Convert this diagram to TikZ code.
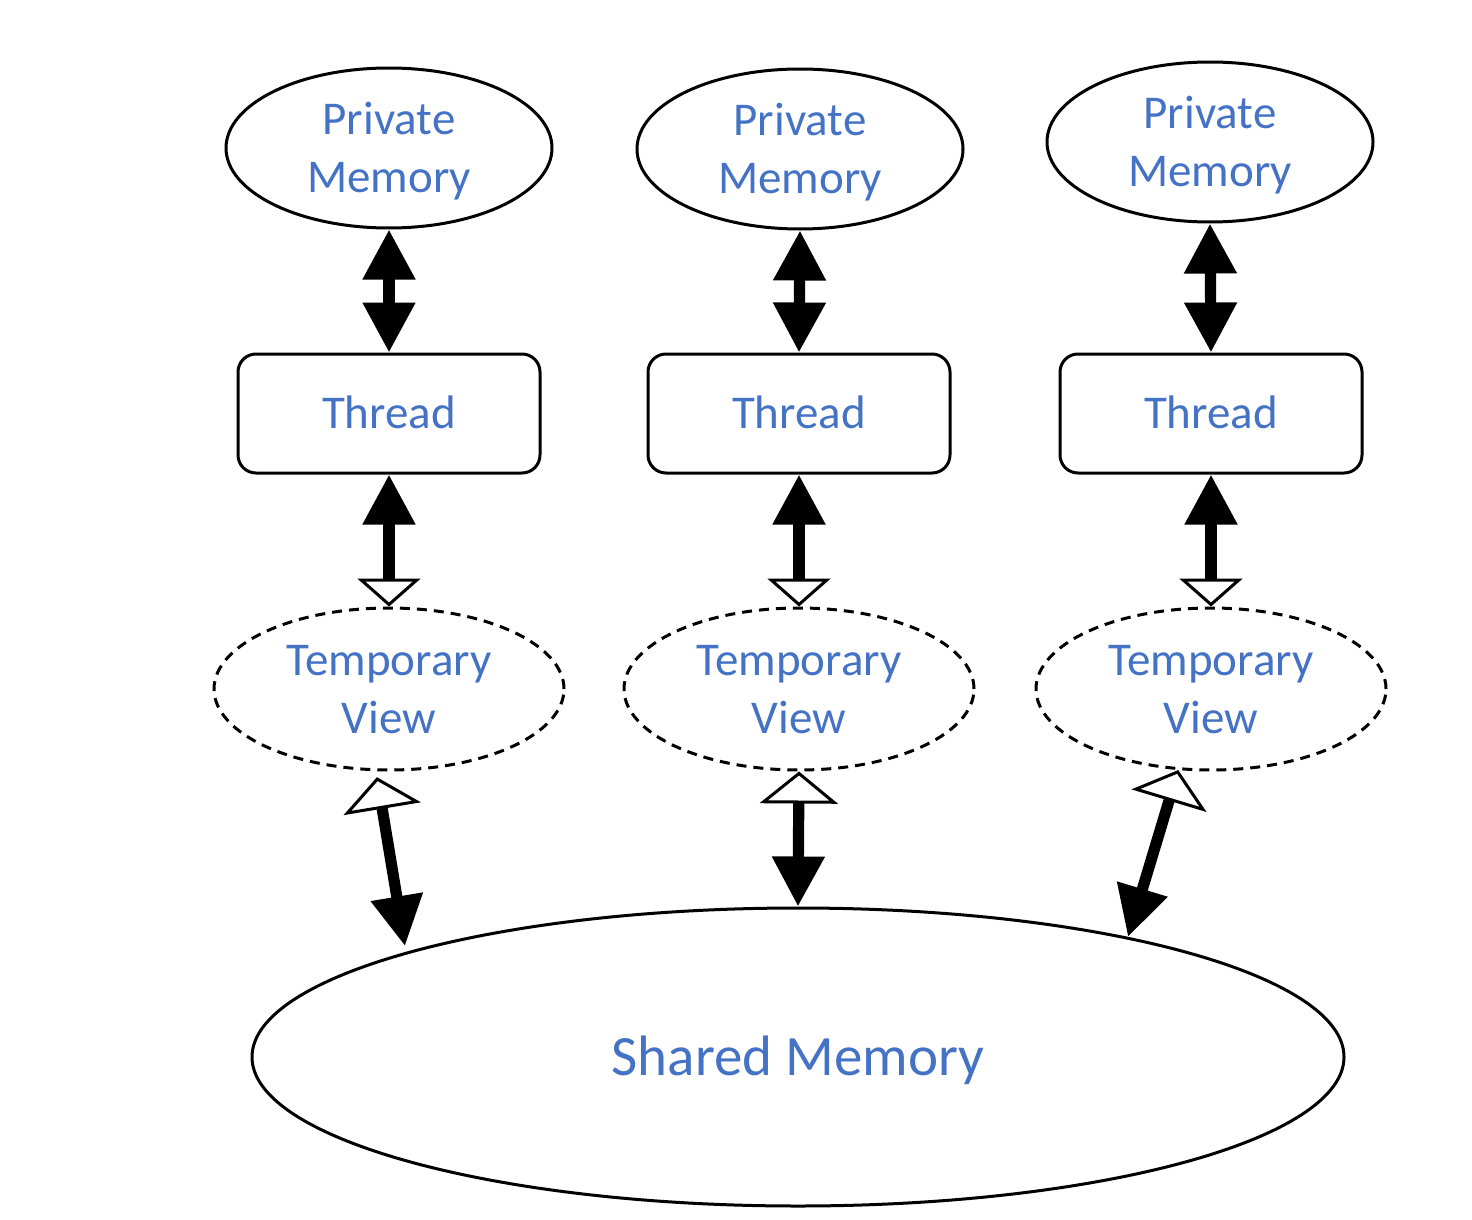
\documentclass[tikz,border=0pt]{standalone}
\usepackage{fontspec}
\setmainfont{Carlito}
\usetikzlibrary{shapes.geometric,arrows.meta}
\definecolor{txtblue}{HTML}{4472C4}
\newcommand{\twoline}[2]{\raisebox{-2pt}[\height][\depth]{\begin{tabular}{@{}c@{}}#1\\#2\end{tabular}}}
\begin{document}
\begin{tikzpicture}[x=0.5pt,y=-0.5pt,
  lbl/.style={text=txtblue, font=\fontsize{23.5}{29}\selectfont, inner sep=0pt, line width=1.5pt, draw=black},
  pm/.style={lbl, ellipse, inner sep=-6pt, minimum width=163pt, minimum height=80pt},
  th/.style={lbl, rectangle, rounded corners=9pt, minimum width=151pt, minimum height=59.5pt, text height=15pt, text depth=0pt},
  tv/.style={lbl, ellipse, inner sep=-6pt, dash pattern=on 5pt off 3.5pt, minimum width=175pt, minimum height=81pt},
  sm/.style={lbl, ellipse, minimum width=546pt, minimum height=149pt, font=\fontsize{28.5}{34}\selectfont, text height=18pt, text depth=0pt},
  conn/.style={line width=5.6pt, black},
  fh/.tip={Triangle[length=25pt,width=25pt]},
  oh/.tip={Triangle[length=14pt,width=31.5pt,fill=white,line width=1.5pt]},
  ohb/.tip={Triangle[length=16pt,width=39pt,fill=white,line width=1.5pt]},
]
\useasboundingbox (0,0) rectangle (1472,1220);
\node[pm] (pm1) at (389,148) {\twoline{Private}{Memory}};
\node[pm] (pm2) at (800,149) {\twoline{Private}{Memory}};
\node[pm] (pm3) at (1210,142) {\twoline{Private}{Memory}};
\node[th] (th1) at (389,413.5) {Thread};
\node[th] (th2) at (799,413.5) {Thread};
\node[th] (th3) at (1211,413.5) {Thread};
\node[tv] (tv1) at (389,689) {\twoline{Temporary}{View}};
\node[tv] (tv2) at (799,689) {\twoline{Temporary}{View}};
\node[tv] (tv3) at (1211,689) {\twoline{Temporary}{View}};
\node[sm] (sm) at (798,1057) {Shared Memory};
\draw[conn, fh-fh] (pm1) -- (th1);
\draw[conn, fh-fh] (pm2.south) -- (th2.north);
\draw[conn, fh-fh] (pm3.south) -- (th3.north);
\draw[conn, fh-oh] (th1) -- (tv1);
\draw[conn, fh-oh] (th2) -- (tv2);
\draw[conn, fh-oh] (th3) -- (tv3);
\draw[conn, ohb-fh, shorten <=3pt, shorten >=3pt] (tv1.-99) -- (sm.165.3);
\draw[conn, ohb-fh] (tv2.south) -- (sm.north);
\draw[conn, ohb-fh] (tv3.-112.7) -- (sm.20);
\end{tikzpicture}
\end{document}
